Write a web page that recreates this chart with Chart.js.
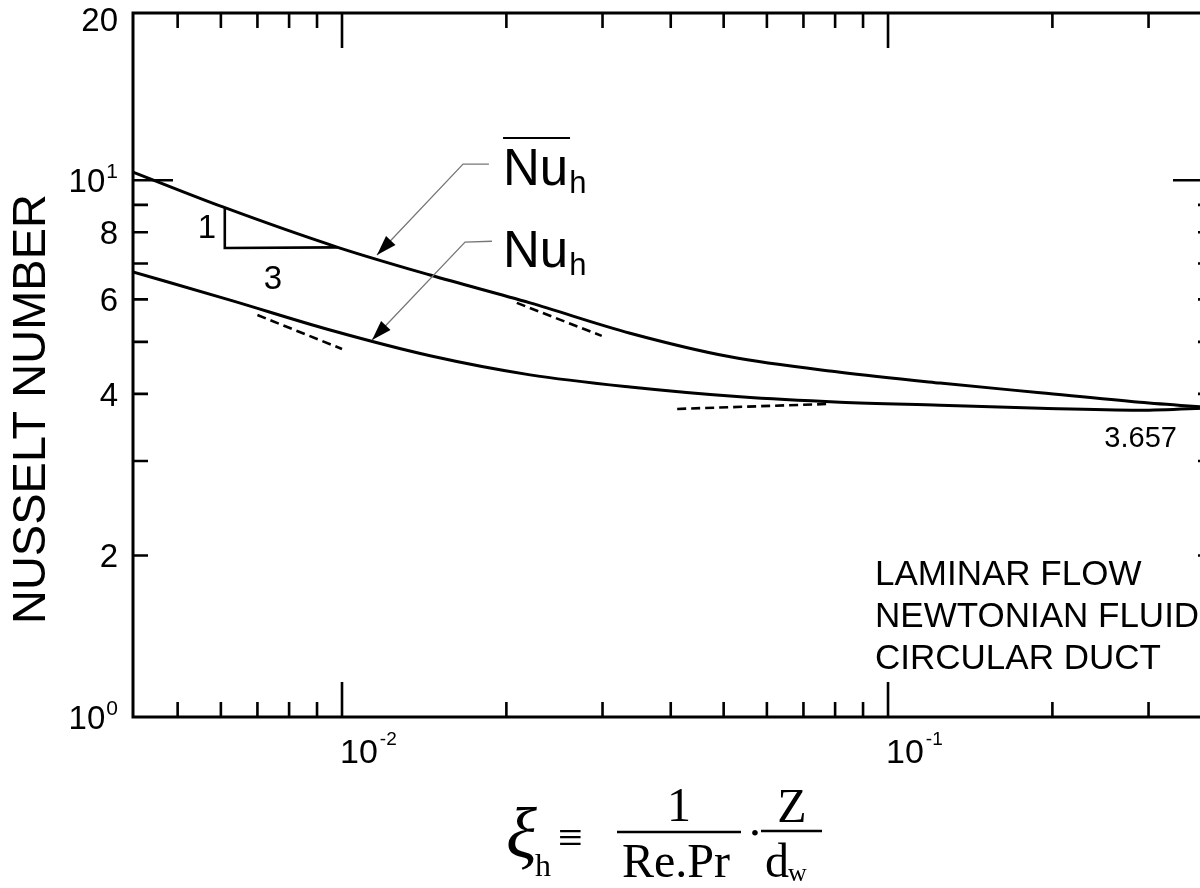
<!DOCTYPE html>
<html>
<head>
<meta charset="utf-8">
<title>Nusselt number - laminar flow in a circular duct</title>
<script src="https://cdn.jsdelivr.net/npm/chart.js@4.4.0/dist/chart.umd.min.js"></script>
<style>
  html, body { margin: 0; padding: 0; background: #fff; overflow: hidden; }
  #wrap { width: 1200px; height: 888px; overflow: hidden; position: relative; }
  canvas { display: block; }
</style>
</head>
<body>
<div id="wrap"><canvas id="nusseltChart" width="1215" height="888"></canvas></div>
<script>
// mean Nusselt number (upper curve)
const xiMean = [0.00414, 0.00605, 0.00979, 0.0145, 0.0221, 0.0337, 0.0514, 0.0817, 0.1245, 0.190, 0.289, 0.394];
const nuMean = [10.36, 8.92, 7.51, 6.66, 5.91, 5.19, 4.69, 4.39, 4.19, 4.02, 3.86, 3.77];

// local Nusselt number (lower curve)
const xiLocal = [0.00414, 0.00624, 0.00951, 0.0145, 0.0221, 0.0337, 0.0536, 0.0817, 0.1245, 0.190, 0.289, 0.394];
const nuLocal = [6.75, 5.98, 5.26, 4.71, 4.34, 4.12, 3.95, 3.86, 3.81, 3.76, 3.73, 3.77];

// 1:3 slope triangle
const xiSlope = [0.0061, 0.0061, 0.0098];
const nuSlope = [8.92, 7.48, 7.50];

// dashed asymptotes
const xiDashMean = [0.0209, 0.0299];
const nuDashMean = [5.91, 5.13];
const xiDashLocal = [0.0070, 0.0100];
const nuDashLocal = [5.61, 4.85];
const xiDashLimit = [0.0411, 0.0773];
const nuDashLimit = [3.75, 3.83];

// axis ticks and labels
const xTicks = [0.005, 0.006, 0.007, 0.008, 0.009, 0.01, 0.02, 0.03, 0.04, 0.05, 0.06, 0.07, 0.08, 0.09, 0.1, 0.2, 0.3];
const xMajor = [0.01, 0.1];
const xLabelValues = [0.01, 0.1];
const xLabelBase = ['10', '10'];
const xLabelExp = ['-2', '-1'];

const yTicks = [2, 3, 4, 5, 6, 7, 8, 9, 10];
const yMajor = [10];
const yLabelValues = [1, 2, 4, 6, 8, 10, 20];
const yLabelBase = ['10', '2', '4', '6', '8', '10', '20'];
const yLabelExp = ['0', '', '', '', '', '1', ''];

const pts = (xs, ys) => xs.map((x, i) => ({ x: x, y: ys[i] }));

const SANS = '"Liberation Sans", Arial, sans-serif';
const SERIF = '"Liberation Serif", "Times New Roman", serif';

function arrow(c, pts) {
    c.save();
    c.strokeStyle = '#777';
    c.lineWidth = 1.3;
    c.beginPath();
    c.moveTo(pts[0][0], pts[0][1]);
    for (let i = 1; i < pts.length; i++) c.lineTo(pts[i][0], pts[i][1]);
    c.stroke();
    // arrow head
    const last = pts[pts.length - 1], prev = pts[pts.length - 2];
    const a = Math.atan2(last[1] - prev[1], last[0] - prev[0]);
    const len = 20, hw = 6.5;
    c.fillStyle = '#000';
    c.beginPath();
    c.moveTo(last[0], last[1]);
    c.lineTo(last[0] - len * Math.cos(a) + hw * Math.sin(a), last[1] - len * Math.sin(a) - hw * Math.cos(a));
    c.lineTo(last[0] - len * Math.cos(a) - hw * Math.sin(a), last[1] - len * Math.sin(a) + hw * Math.cos(a));
    c.closePath();
    c.fill();
    c.restore();
}

const framePlugin = {
    id: 'frame',
    afterDraw(chart) {
        const c = chart.ctx;
        const a = chart.chartArea;
        const xs = chart.scales.x, ys = chart.scales.y;
        const X = v => xs.getPixelForValue(v);
        const Y = v => ys.getPixelForValue(v);
        c.save();
        c.strokeStyle = '#000';
        c.fillStyle = '#000';
        c.lineWidth = 3;
        c.strokeRect(a.left, a.top, a.right - a.left, a.bottom - a.top);

        // inward ticks
        c.lineWidth = 2.6;
        c.beginPath();
        xTicks.forEach(v => {
            const p = X(v);
            const len = xMajor.includes(v) ? 35 : 15;
            c.moveTo(p, a.bottom); c.lineTo(p, a.bottom - len);
            c.moveTo(p, a.top); c.lineTo(p, a.top + len);
        });
        yTicks.forEach(v => {
            const p = Y(v);
            const len = yMajor.includes(v) ? 40 : 15;
            c.moveTo(a.left, p); c.lineTo(a.left + len, p);
            c.moveTo(a.right, p); c.lineTo(a.right - len, p);
        });
        c.stroke();

        // x tick labels
        c.textBaseline = 'alphabetic';
        c.textAlign = 'left';
        xLabelValues.forEach((v, i) => {
            const p = X(v);
            c.font = '34px ' + SANS;
            c.fillText(xLabelBase[i], p - 2, a.bottom + 46);
            const w = c.measureText(xLabelBase[i]).width;
            c.font = '19px ' + SANS;
            c.fillText(xLabelExp[i], p + w, a.bottom + 28);
        });

        // y tick labels
        yLabelValues.forEach((v, i) => {
            const p = Y(v);
            const right = a.left - 15;
            c.font = '21px ' + SANS;
            const ew = yLabelExp[i] ? c.measureText(yLabelExp[i]).width + 1 : 0;
            if (yLabelExp[i]) {
                c.textAlign = 'right';
                c.fillText(yLabelExp[i], right, p - 2);
            }
            c.font = '33px ' + SANS;
            c.textAlign = 'right';
            c.fillText(yLabelBase[i], right - ew, p + 12);
        });

        // y axis title
        c.save();
        c.translate(32, 409);
        c.rotate(-Math.PI / 2);
        c.font = '47px ' + SANS;
        c.textAlign = 'center';
        c.textBaseline = 'middle';
        c.fillText('NUSSELT NUMBER', 0, 0);
        c.restore();

        // x axis title: xi_h = 1/(Re.Pr) . Z/d_w
        c.textAlign = 'left';
        c.font = 'italic 72px ' + SERIF;
        c.fillText('\u03BE', 506, 858);
        c.font = '32px ' + SERIF;
        c.fillText('h', 535, 876);
        c.font = '44px ' + SERIF;
        c.fillText('\u2261', 558, 852);
        c.textAlign = 'center';
        c.font = '48px ' + SERIF;
        c.fillText('1', 679, 821);
        c.fillText('Re.Pr', 676, 877);
        c.fillText('Z', 792, 822);
        c.textAlign = 'left';
        c.fillText('d', 765, 877);
        c.font = '26px ' + SERIF;
        c.fillText('w', 788, 881);
        c.textAlign = 'center';
        c.font = '24px ' + SERIF;
        c.fillText('\u2022', 755, 841);
        c.lineWidth = 2.5;
        c.beginPath();
        c.moveTo(617, 832); c.lineTo(741, 832);
        c.moveTo(761, 831); c.lineTo(822, 831);
        c.stroke();

        // curve labels with leader arrows
        arrow(c, [[X(0.01858), Y(10.72)], [X(0.01666), Y(10.72)], [X(0.01159), Y(7.26)]]);
        arrow(c, [[X(0.01882), Y(7.70)], [X(0.01680), Y(7.67)], [X(0.01135), Y(5.04)]]);

        const lx = X(0.01972);
        [[Y(9.80), true], [Y(6.90), false]].forEach(([by, bar]) => {
            c.font = '51px ' + SANS;
            c.textAlign = 'left';
            c.fillText('Nu', lx, by);
            const w = c.measureText('Nu').width;
            c.font = '31px ' + SANS;
            c.fillText('h', lx + w + 1, by + 8);
            if (bar) {
                c.lineWidth = 2;
                c.beginPath();
                c.moveTo(lx, by - 47); c.lineTo(lx + 67, by - 47);
                c.stroke();
            }
        });

        // slope triangle numbers
        c.font = '33px ' + SANS;
        c.textAlign = 'center';
        c.textBaseline = 'middle';
        c.fillText('1', X(0.005658), Y(8.12));
        c.fillText('3', X(0.007475), Y(6.52));

        // asymptotic value
        c.textBaseline = 'alphabetic';
        c.textAlign = 'right';
        c.font = '29px ' + SANS;
        c.fillText('3.657', X(0.3381), Y(3.185));

        // flow description
        c.textAlign = 'left';
        c.font = '35px ' + SANS;
        const tx = X(0.09467), ty = Y(1.762);
        ['LAMINAR FLOW', 'NEWTONIAN FLUID', 'CIRCULAR DUCT'].forEach((t, i) => {
            c.fillText(t, tx, ty + i * 42);
        });
        c.restore();
    }
};

const solid = { borderColor: '#000', borderWidth: 3, pointRadius: 0, fill: false };
const dashed = { borderColor: '#000', borderWidth: 2.6, borderDash: [9, 5], pointRadius: 0, fill: false, tension: 0 };

new Chart(document.getElementById('nusseltChart'), {
    type: 'line',
    data: {
        datasets: [
            Object.assign({ label: 'Nu_h mean', data: pts(xiMean, nuMean), cubicInterpolationMode: 'monotone' }, solid),
            Object.assign({ label: 'Nu_h local', data: pts(xiLocal, nuLocal), cubicInterpolationMode: 'monotone' }, solid),
            Object.assign({ label: 'slope', data: pts(xiSlope, nuSlope), tension: 0 }, solid, { borderWidth: 2.6 }),
            Object.assign({ label: 'asymptote mean', data: pts(xiDashMean, nuDashMean) }, dashed),
            Object.assign({ label: 'asymptote local', data: pts(xiDashLocal, nuDashLocal) }, dashed),
            Object.assign({ label: 'limit', data: pts(xiDashLimit, nuDashLimit) }, dashed)
        ]
    },
    options: {
        responsive: false,
        animation: false,
        layout: { padding: { left: 133, top: 13, right: 2, bottom: 171 } },
        plugins: { legend: { display: false }, tooltip: { enabled: false } },
        scales: {
            x: { type: 'logarithmic', min: 0.004142, max: 0.3937, display: false },
            y: { type: 'logarithmic', min: 1, max: 20.5, display: false }
        }
    },
    plugins: [framePlugin]
});
</script>
</body>
</html>
